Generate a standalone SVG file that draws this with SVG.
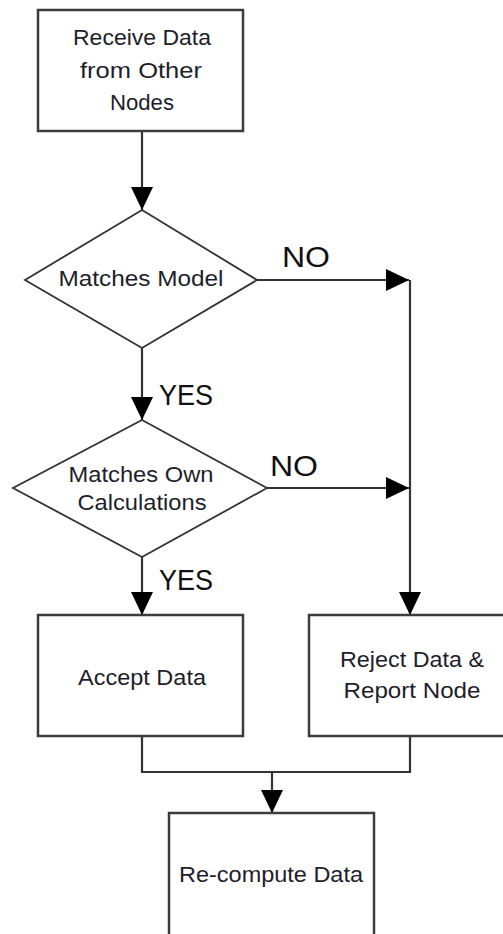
<svg xmlns="http://www.w3.org/2000/svg" width="503" height="934" viewBox="0 0 503 934">
<style>
.box{fill:#fff;stroke:#3c3c3c;stroke-width:2.5}
.dia{fill:#fff;stroke:#333;stroke-width:1.8}
.t{font-family:"Liberation Sans",Arial,sans-serif;font-size:22px;fill:#1e1e2a;text-anchor:middle}
.lbl{font-family:"Liberation Sans",Arial,sans-serif;font-size:30px;fill:#111;text-anchor:start}
.ln{fill:none;stroke:#333;stroke-width:2.2}
</style>
<defs>
<marker id="ah" markerUnits="userSpaceOnUse" markerWidth="24" markerHeight="22" refX="23" refY="11" orient="auto">
<path d="M0,0 L23,11 L0,22 z" fill="#000"/>
</marker>
</defs>
<g id="connectors">
<path class="ln" d="M142,131 V210" marker-end="url(#ah)"/>
<path class="ln" d="M257,280 H409" marker-end="url(#ah)"/>
<path class="ln" d="M410,280 V615" marker-end="url(#ah)"/>
<path class="ln" d="M142,348 V420" marker-end="url(#ah)"/>
<path class="ln" d="M267,488 H409" marker-end="url(#ah)"/>
<path class="ln" d="M142,557 V615" marker-end="url(#ah)"/>
<path class="ln" d="M142,736 V772 H410 V736"/>
<path class="ln" d="M272,772 V813" marker-end="url(#ah)"/>
<text class="lbl" x="282" y="267" textLength="48" lengthAdjust="spacingAndGlyphs">NO</text>
<text class="lbl" x="159" y="405" textLength="54" lengthAdjust="spacingAndGlyphs">YES</text>
<text class="lbl" x="270" y="476" textLength="48" lengthAdjust="spacingAndGlyphs">NO</text>
<text class="lbl" x="159" y="590" textLength="54" lengthAdjust="spacingAndGlyphs">YES</text>
</g>
<g id="receive">
<rect class="box" x="38" y="10" width="205" height="121"/>
<text class="t" x="142" y="45" textLength="138" lengthAdjust="spacingAndGlyphs">Receive Data</text>
<text class="t" x="141" y="78" textLength="122" lengthAdjust="spacingAndGlyphs">from Other</text>
<text class="t" x="142" y="110" textLength="64" lengthAdjust="spacingAndGlyphs">Nodes</text>
</g>
<g id="matches-model">
<polygon class="dia" points="142,210 257,280 142,348 25,280"/>
<text class="t" x="141" y="286" textLength="165" lengthAdjust="spacingAndGlyphs">Matches Model</text>
</g>
<g id="matches-own">
<polygon class="dia" points="142,420 267,488 142,557 13,488"/>
<text class="t" x="141" y="482" textLength="145" lengthAdjust="spacingAndGlyphs">Matches Own</text>
<text class="t" x="142" y="510" textLength="129" lengthAdjust="spacingAndGlyphs">Calculations</text>
</g>
<g id="accept">
<rect class="box" x="38" y="615" width="205" height="121"/>
<text class="t" x="142" y="685" textLength="128" lengthAdjust="spacingAndGlyphs">Accept Data</text>
</g>
<g id="reject">
<rect class="box" x="309" y="615" width="210" height="121"/>
<text class="t" x="412" y="667" textLength="144" lengthAdjust="spacingAndGlyphs">Reject Data &amp;</text>
<text class="t" x="412" y="698" textLength="137" lengthAdjust="spacingAndGlyphs">Report Node</text>
</g>
<g id="recompute">
<rect class="box" x="169" y="813" width="205" height="130"/>
<text class="t" x="271" y="882" textLength="184" lengthAdjust="spacingAndGlyphs">Re-compute Data</text>
</g>
</svg>
